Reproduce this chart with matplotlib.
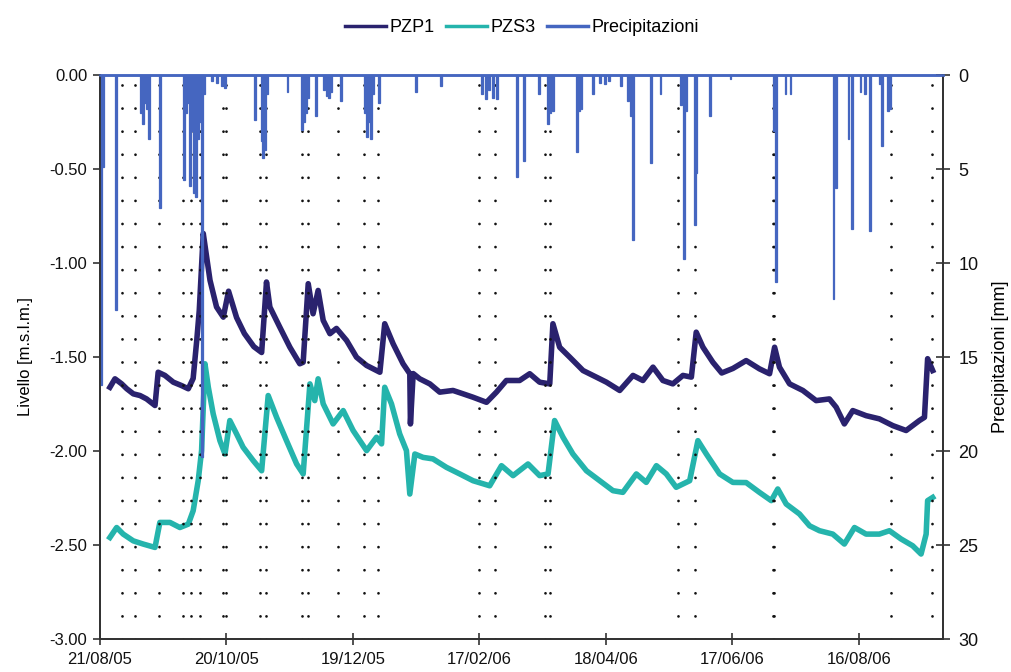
import matplotlib
matplotlib.use("Agg")
import matplotlib.pyplot as plt
from matplotlib.lines import Line2D

plt.rcParams['font.family'] = ['Liberation Sans', 'DejaVu Sans']

# ---- data (x = days since 21/08/05) ----
x_tick_days = [0, 60, 120, 180, 240, 300, 360]
x_tick_labels = ["21/08/05", "20/10/05", "19/12/05", "17/02/06", "18/04/06", "17/06/06", "16/08/06"]
left_ticks = [0.0, -0.5, -1.0, -1.5, -2.0, -2.5, -3.0]
left_tick_labels = ["0.00", "-0.50", "-1.00", "-1.50", "-2.00", "-2.50", "-3.00"]
right_ticks = [0, 5, 10, 15, 20, 25, 30]

pzp1_days = [4.7, 7.1, 10.3, 12.7, 15.8, 19.0, 22.1, 26.1, 27.6, 30.8, 34.8, 38.7, 41.9, 44.2,
             45.9, 47.1, 49.0, 50.6, 52.2, 55.3, 58.5, 61.0, 64.8, 68.5, 73.0, 76.7, 79.0, 80.6,
             85.3, 90.1, 94.8, 96.4, 98.8, 101.1, 103.5, 105.9, 109.1, 112.2, 117.0, 121.7,
             126.5, 132.8, 135.1, 139.1, 143.8, 147.0, 147.3, 148.6, 151.7, 156.5, 161.2, 167.5,
             172.3, 177.0, 183.4, 188.1, 192.8, 199.1, 203.9, 208.6, 213.4, 214.9, 218.1, 222.9,
             229.2, 235.5, 240.3, 246.6, 252.9, 257.6, 262.4, 267.1, 271.8, 276.6, 280.6, 282.9,
             286.1, 290.8, 295.0, 300.3, 306.6, 312.9, 317.7, 320.1, 322.4, 327.2, 333.5, 339.8,
             346.1, 349.3, 353.2, 357.2, 363.5, 369.8, 376.2, 382.5, 388.8, 391.2, 392.7, 395.1]
pzp1_vals = [-1.661, -1.616, -1.643, -1.669, -1.696, -1.705, -1.723, -1.758, -1.581, -1.598,
             -1.634, -1.652, -1.669, -1.614, -1.412, -1.252, -0.843, -0.968, -1.092, -1.234,
             -1.288, -1.150, -1.290, -1.375, -1.445, -1.476, -1.101, -1.234, -1.341, -1.448,
             -1.536, -1.528, -1.110, -1.270, -1.146, -1.305, -1.376, -1.348, -1.412, -1.501,
             -1.545, -1.581, -1.323, -1.430, -1.536, -1.589, -1.856, -1.588, -1.616, -1.643,
             -1.687, -1.678, -1.696, -1.714, -1.741, -1.687, -1.625, -1.625, -1.589, -1.634,
             -1.643, -1.323, -1.448, -1.501, -1.572, -1.607, -1.634, -1.678, -1.598, -1.625,
             -1.554, -1.625, -1.643, -1.598, -1.607, -1.368, -1.448, -1.528, -1.585, -1.561,
             -1.519, -1.563, -1.589, -1.448, -1.554, -1.643, -1.678, -1.732, -1.723, -1.767,
             -1.856, -1.785, -1.812, -1.829, -1.865, -1.891, -1.838, -1.821, -1.509, -1.572]

pzs3_days = [4.7, 7.9, 11.0, 15.8, 20.5, 26.1, 28.4, 33.2, 37.9, 41.9, 44.2, 46.6, 48.2, 49.8,
             51.4, 53.7, 56.9, 59.3, 61.6, 64.8, 67.9, 72.7, 76.7, 79.8, 83.8, 88.5, 93.3, 96.4,
             99.6, 101.9, 103.5, 105.9, 110.6, 115.4, 120.1, 126.5, 131.2, 133.6, 135.1, 138.3,
             142.2, 145.4, 147.0, 149.4, 153.3, 158.0, 164.4, 170.7, 177.0, 184.9, 190.5, 196.0,
             203.1, 208.6, 212.6, 215.7, 219.7, 224.4, 230.8, 237.1, 243.4, 248.1, 254.5, 259.2,
             264.0, 268.7, 273.4, 279.8, 283.7, 287.7, 294.0, 300.3, 306.6, 312.9, 318.5, 321.6,
             325.6, 331.9, 336.7, 341.4, 347.7, 353.2, 358.0, 363.5, 369.8, 374.6, 380.1, 385.6,
             389.6, 392.0, 392.7, 395.1]
pzs3_vals = [-2.460, -2.407, -2.442, -2.478, -2.495, -2.513, -2.380, -2.380, -2.407, -2.389,
             -2.318, -2.158, -1.998, -1.536, -1.661, -1.802, -1.945, -2.016, -1.838, -1.909,
             -1.980, -2.051, -2.105, -1.705, -1.821, -1.945, -2.069, -2.122, -1.643, -1.732,
             -1.616, -1.749, -1.856, -1.785, -1.891, -1.998, -1.927, -1.962, -1.661, -1.749,
             -1.909, -1.998, -2.229, -2.016, -2.034, -2.042, -2.087, -2.122, -2.158, -2.185,
             -2.078, -2.131, -2.069, -2.131, -2.122, -1.838, -1.927, -2.016, -2.105, -2.158,
             -2.211, -2.220, -2.122, -2.167, -2.078, -2.122, -2.193, -2.158, -1.945, -2.016,
             -2.122, -2.167, -2.168, -2.220, -2.264, -2.202, -2.282, -2.335, -2.398, -2.424,
             -2.442, -2.495, -2.407, -2.442, -2.442, -2.424, -2.468, -2.504, -2.548, -2.442,
             -2.264, -2.247]

rain_days = [0.0, 1.0, 7.2, 19, 20, 21, 22, 23, 28.0, 39.5, 40.5, 41.5, 42.3, 43.3, 44.2, 45.1,
             46.0, 47.0, 48.0, 49.0, 52.5, 55, 57.5, 59.0, 73.2, 76.2, 77.0, 78.0, 79.0, 88.5,
             95.3, 96.3, 97.3, 98.3, 102.0, 106, 107, 108, 109, 113.8, 125.5, 126.3, 127.3,
             128.3, 129.3, 131.8, 149.4, 161.2, 181.0, 182.5, 184.0, 186.0, 188.0, 197.6, 200.9,
             207.8, 212.3, 213.3, 214.5, 226.0, 227.0, 228.0, 233.6, 237, 239, 241, 246.6, 250.0,
             251.5, 252.5, 260.8, 265.5, 275.3, 276.6, 277.5, 281.7, 282.5, 289.2, 298.7, 319.3,
             320.3, 324.8, 327.2, 347.6, 348.6, 354.7, 356.4, 360.4, 362.7, 365.0, 369.5, 370.8,
             373.6, 374.6]
rain_mm = [16.5, 4.9, 12.5, 2.0, 2.6, 1.5, 1.8, 3.4, 7.1, 5.6, 2.0, 1.5, 5.9, 3.0, 6.3, 6.5,
           3.4, 2.5, 20.3, 1.0, 0.3, 0.4, 0.6, 0.7, 2.4, 3.5, 4.4, 4.0, 1.0, 0.9,
           2.9, 2.5, 2.0, 1.2, 2.2, 0.8, 1.1, 1.2, 0.9, 1.4, 2.0, 3.3, 2.5,
           3.4, 1.0, 1.5, 0.9, 0.6, 1.0, 1.3, 0.8, 1.2, 1.3, 5.4, 4.6,
           1.0, 2.6, 2.0, 1.9, 4.1, 1.9, 1.8, 1.0, 0.4, 0.5, 0.3, 0.6, 1.4,
           2.2, 8.8, 4.7, 1.0, 1.6, 9.8, 1.9, 8.0, 5.2, 2.2, 0.2, 3.0,
           11.0, 1.0, 1.0, 11.9, 6.0, 3.4, 8.2, 0.9, 1.0, 8.3, 0.5, 3.8,
           1.9, 1.8]

sample_days = [10.3, 16.6, 28.0, 39.5, 43.1, 47.5, 58.5, 59.6, 75.9, 78.6, 95.9, 98.8, 112.7,
               125.3, 131.7, 179.7, 187.3, 211.0, 213.7, 274.2, 282.1, 319.3, 320.0, 375.4, 394.6]

# ---- style ----
c_pzp1 = "#2a226e"
c_pzs3 = "#25b4ac"
c_rain = "#4566c0"
c_axis = "#333333"

fig = plt.figure(figsize=(10.11, 6.72), dpi=100)
ax = fig.add_axes([100 / 1011, 1 - 639 / 672, 843 / 1011, 564 / 672])
ax2 = ax.twinx()

for d in sample_days:
    ax.axvline(d, color="#111111", lw=2.0, linestyle=(0, (0.01, 8.3)),
               dash_capstyle="round", zorder=3)

ax.plot(pzp1_days, pzp1_vals, color=c_pzp1, lw=4.0, zorder=2, solid_joinstyle="round")
ax.plot(pzs3_days, pzs3_vals, color=c_pzs3, lw=4.0, zorder=2, solid_joinstyle="round")

ax2.bar(rain_days, rain_mm, width=0.9, align="edge", color=c_rain,
        edgecolor=c_rain, linewidth=0.9)

ax.set_xlim(0, 400)
ax.set_ylim(-3.0, 0.0)
ax2.set_ylim(30, 0)

ax.set_xticks(x_tick_days)
ax.set_xticklabels(x_tick_labels)
ax.set_yticks(left_ticks)
ax.set_yticklabels(left_tick_labels)
ax2.set_yticks(right_ticks)
ax2.set_yticklabels([str(v) for v in right_ticks])

fs = 12
ax.tick_params(axis="x", direction="inout", length=8, width=1.2, colors=c_axis,
               labelsize=fs, labelcolor="#111111", pad=5)
ax.tick_params(axis="y", direction="out", length=5, width=1.2, colors=c_axis,
               labelsize=fs, labelcolor="#111111", pad=4)
ax2.tick_params(axis="y", direction="inout", length=10, width=1.2, colors=c_axis,
                labelsize=fs + 1, labelcolor="#111111", pad=6)

for a in (ax, ax2):
    for side in ("left", "right", "bottom"):
        a.spines[side].set_color(c_axis)
        a.spines[side].set_linewidth(1.3)
    a.spines["top"].set_color(c_rain)
    a.spines["top"].set_linewidth(1.8)

ax.set_ylabel("Livello [m.s.l.m.]", fontsize=fs, labelpad=12)
ax2.set_ylabel("Precipitazioni [mm]", fontsize=fs + 1, labelpad=10)

handles = [Line2D([], [], color=c_pzp1, lw=2.5),
           Line2D([], [], color=c_pzs3, lw=2.5),
           Line2D([], [], color=c_rain, lw=2.5)]
fig.legend(handles, ["PZP1", "PZS3", "Precipitazioni"], loc="center",
           bbox_to_anchor=(522 / 1011, 1 - 28 / 672), ncol=3, frameon=False,
           fontsize=13, handlelength=2.3, handletextpad=0.2, columnspacing=0.6)

fig.savefig("out.png", dpi=100, facecolor="white")
